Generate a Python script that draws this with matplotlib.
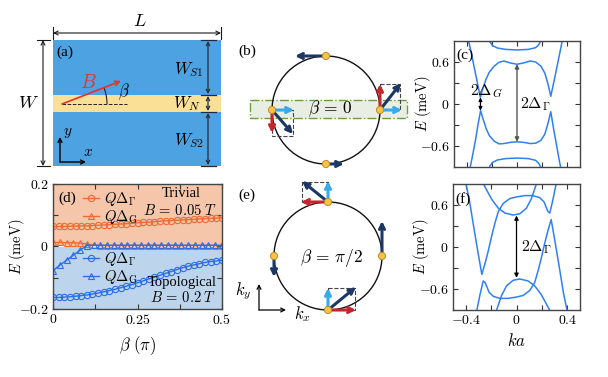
import numpy as np
import matplotlib
matplotlib.use('Agg')
import matplotlib.pyplot as plt
from matplotlib.patches import Rectangle, Circle, Arc

plt.rcParams['mathtext.fontset'] = 'cm'
plt.rcParams['font.family'] = ['Liberation Serif', 'DejaVu Serif']

# ---------------- data: panel (c) bands (k a, E meV) ----------------
c_band1_k = [-0.39, -0.364, -0.338, -0.312, -0.291, -0.273, -0.247, -0.221, -0.182, -0.143, -0.104, -0.052, 0.0,
             0.052, 0.104, 0.148, 0.19, 0.221, 0.247, 0.268, 0.299, 0.325, 0.351, 0.364]
c_band1_E = [0.95, 0.74, 0.51, 0.28, 0.095, 0.21, 0.35, 0.45, 0.54, 0.595, 0.614, 0.586, 0.568,
             0.586, 0.614, 0.60, 0.54, 0.44, 0.28, 0.11, 0.37, 0.60, 0.83, 0.95]
c_band2_k = [-0.377, -0.355, -0.33, -0.31, -0.289, -0.27, -0.245, -0.22, -0.182, -0.143, -0.104, -0.052, 0.0,
             0.052, 0.104, 0.148, 0.19, 0.221, 0.247, 0.268, 0.292, 0.315, 0.338, 0.352]
c_band2_E = [-0.95, -0.76, -0.52, -0.30, -0.095, -0.21, -0.35, -0.45, -0.53, -0.57, -0.565, -0.548, -0.54,
             -0.548, -0.565, -0.56, -0.52, -0.43, -0.27, -0.11, -0.37, -0.60, -0.83, -0.95]
c_cap_up_k = [-0.226, -0.216, -0.195, -0.156, -0.091, 0.0, 0.091, 0.148, 0.174, 0.19, 0.195]
c_cap_up_E = [0.95, 0.89, 0.835, 0.80, 0.78, 0.772, 0.78, 0.805, 0.85, 0.91, 0.95]
c_cap_dn_k = [-0.226, -0.216, -0.195, -0.156, -0.091, 0.0, 0.091, 0.148, 0.174, 0.19, 0.195]
c_cap_dn_E = [-0.95, -0.89, -0.835, -0.80, -0.78, -0.772, -0.78, -0.805, -0.85, -0.91, -0.95]

# ---------------- data: panel (f) bands ----------------
f_band1_k = [-0.403, -0.371, -0.338, -0.304, -0.273, -0.247, -0.221, -0.195, -0.169, -0.143, -0.104, -0.052, 0.0,
             0.065, 0.13, 0.182, 0.216, 0.247, 0.262, 0.286, 0.312, 0.319]
f_band1_E = [0.946, 0.669, 0.30, -0.07, -0.392, -0.23, -0.046, 0.16, 0.346, 0.508, 0.623, 0.692, 0.715,
             0.734, 0.734, 0.706, 0.646, 0.508, 0.485, 0.669, 0.90, 0.946]
f_band2_k = [-0.319, -0.312, -0.286, -0.262, -0.247, -0.216, -0.182, -0.13, -0.065, 0.0, 0.052, 0.104, 0.143,
             0.169, 0.195, 0.221, 0.247, 0.273, 0.304, 0.338, 0.371, 0.403]
f_band2_E = [-0.946, -0.90, -0.669, -0.485, -0.508, -0.646, -0.706, -0.734, -0.734, -0.715, -0.692, -0.623, -0.508,
             -0.346, -0.16, 0.046, 0.23, 0.392, 0.07, -0.30, -0.669, -0.946]
f_par_up_k = [-0.273, -0.234, -0.195, -0.143, -0.091, -0.026, 0.026, 0.078, 0.117, 0.148, 0.164]
f_par_up_E = [0.946, 0.81, 0.68, 0.554, 0.485, 0.457, 0.475, 0.554, 0.69, 0.854, 0.946]
f_par_dn_k = [-0.164, -0.148, -0.117, -0.078, -0.026, 0.026, 0.091, 0.143, 0.195, 0.234, 0.273]
f_par_dn_E = [-0.946, -0.854, -0.69, -0.554, -0.475, -0.457, -0.485, -0.554, -0.68, -0.81, -0.946]

# ---------------- data: panel (d) ----------------
beta_circ = np.linspace(0, 0.5, 31)
triv_gamma = [0.064, 0.064, 0.064, 0.065, 0.065, 0.066, 0.066, 0.067, 0.068, 0.069, 0.070,
              0.071, 0.072, 0.073, 0.074, 0.076, 0.077, 0.078, 0.079, 0.081, 0.082,
              0.083, 0.084, 0.085, 0.086, 0.087, 0.088, 0.089, 0.090, 0.091, 0.092]
topo_gamma = [-0.163, -0.163, -0.162, -0.161, -0.159, -0.157, -0.155, -0.152, -0.149, -0.145, -0.141,
              -0.137, -0.132, -0.127, -0.122, -0.116, -0.110, -0.104, -0.098, -0.092, -0.086,
              -0.080, -0.074, -0.068, -0.063, -0.059, -0.055, -0.051, -0.048, -0.046, -0.044]
beta_tri = np.linspace(0, 0.5, 26)
triv_G = [0.013, 0.013, 0.012, 0.012, 0.011, 0.008, 0.004, 0.003, 0.003, 0.003, 0.003, 0.003, 0.003,
          0.003, 0.003, 0.003, 0.003, 0.003, 0.003, 0.003, 0.003, 0.003, 0.003, 0.003, 0.003, 0.003]
topo_G = [-0.077, -0.060, -0.044, -0.028, -0.012, 0.003, 0.004, 0.004, 0.004, 0.004, 0.004, 0.004, 0.004,
          0.004, 0.004, 0.004, 0.004, 0.004, 0.004, 0.004, 0.004, 0.004, 0.004, 0.004, 0.004, 0.004]

# ---------------- schematic geometry (figure pixels) ----------------
rect_a = (53, 40, 221, 166)
strip_a = (95, 112)
B_vec = ((62, 104), (121, 81))

circ_b = (326, 110, 54)
dots_b = [(326, 56), (326, 164), (272, 110), (380, 110)]
circ_e = (328, 256, 54)
dots_e = [(328, 202), (328, 310), (274, 256), (382, 256)]

W, H = 608, 377
fig = plt.figure(figsize=(6.08, 3.77), dpi=100)

BAND = '#2F80F2'
ORANGE = '#F06A35'
BLUE = '#2A6FE8'
NAVY = '#1D3765'
LBLUE = '#38A9E9'
RED = '#C3262C'
TICKFS = 10
LABFS = 10.5


def px_axes(x0, y0, x1, y1):
    return fig.add_axes([x0 / W, 1 - y1 / H, (x1 - x0) / W, (y1 - y0) / H])


def band_style(ax, xlabels):
    ax.set_xlim(-0.5, 0.5)
    ax.set_ylim(-0.9, 0.9)
    ax.set_xticks([-0.4, 0, 0.4])
    ax.set_xticks([-0.2, 0.2], minor=True)
    ax.set_yticks([-0.6, 0, 0.6])
    ax.set_yticks([-0.3, 0.3], minor=True)
    ax.set_yticklabels([r'$-0.6$', r'$0$', r'$0.6$'], fontsize=TICKFS)
    if xlabels:
        ax.set_xticklabels([r'$-0.4$', r'$0$', r'$0.4$'], fontsize=TICKFS)
        ax.set_xlabel(r'$ka$', fontsize=LABFS + 1.5, labelpad=4)
    else:
        ax.set_xticklabels([])
    ax.tick_params(which='both', direction='in', top=True, right=True, length=3.5, width=0.8,
                   colors='#333333', labelcolor='black', pad=3)
    for s in ax.spines.values():
        s.set_color('#444444')
        s.set_linewidth(1.0)
    ax.set_ylabel(r'$E\ (\mathrm{meV})$', fontsize=LABFS)
    ax.yaxis.set_label_coords(-0.17, 0.5)


# ---------------- panel (c) ----------------
ax_c = px_axes(454, 41, 580, 167)
for kk, ee in [(c_band1_k, c_band1_E), (c_band2_k, c_band2_E), (c_cap_up_k, c_cap_up_E), (c_cap_dn_k, c_cap_dn_E)]:
    ax_c.plot(kk, ee, color=BAND, lw=1.1)
band_style(ax_c, False)
ax_c.annotate('', xy=(-0.29, -0.095), xytext=(-0.29, 0.095),
              arrowprops=dict(arrowstyle='<|-|>', color='black', lw=0.9, mutation_scale=5, shrinkA=0, shrinkB=0))
ax_c.annotate('', xy=(0, -0.54), xytext=(0, 0.57),
              arrowprops=dict(arrowstyle='<|-|>', color='#555555', lw=1.0, mutation_scale=6, shrinkA=0, shrinkB=0))
ax_c.text(-0.24, 0.19, r'$2\Delta_G$', fontsize=11.5, ha='center', va='center')
ax_c.text(0.145, 0.0, r'$2\Delta_\Gamma$', fontsize=11.5, ha='center', va='center')
ax_c.text(0.02, 0.94, '(c)', transform=ax_c.transAxes, fontsize=11, va='top', ha='left')

# ---------------- panel (f) ----------------
ax_f = px_axes(453, 184, 580, 310)
for kk, ee in [(f_band1_k, f_band1_E), (f_band2_k, f_band2_E), (f_par_up_k, f_par_up_E), (f_par_dn_k, f_par_dn_E)]:
    ax_f.plot(kk, ee, color=BAND, lw=1.1)
band_style(ax_f, True)
ax_f.annotate('', xy=(0, -0.44), xytext=(0, 0.45),
              arrowprops=dict(arrowstyle='<|-|>', color='black', lw=0.9, mutation_scale=6, shrinkA=0, shrinkB=0))
ax_f.text(0.155, 0.0, r'$2\Delta_\Gamma$', fontsize=11.5, ha='center', va='center')
ax_f.text(0.02, 0.94, '(f)', transform=ax_f.transAxes, fontsize=11, va='top', ha='left')

# ---------------- panel (d) ----------------
ax_d = px_axes(53, 184, 222, 309)
ax_d.axhspan(0, 0.2, color='#F5C6AA', lw=0, zorder=0)
ax_d.axhspan(-0.2, 0, color='#BDD5EC', lw=0, zorder=0)
mk = dict(mfc='none', ms=4.5, mew=0.8, lw=1.0)
h1, = ax_d.plot(beta_circ, triv_gamma, '-o', color=ORANGE, **mk)
h2, = ax_d.plot(beta_tri, triv_G, '-^', color=ORANGE, **mk)
h3, = ax_d.plot(beta_circ, topo_gamma, '-o', color=BLUE, **mk)
h4, = ax_d.plot(beta_tri, topo_G, '-^', color=BLUE, **mk)
ax_d.set_xlim(0, 0.5)
ax_d.set_ylim(-0.2, 0.2)
ax_d.set_xticks([0, 0.25, 0.5])
ax_d.set_xticks([0.125, 0.375], minor=True)
ax_d.set_xticklabels([r'$0$', r'$0.25$', r'$0.5$'], fontsize=TICKFS)
ax_d.set_yticks([-0.2, 0, 0.2])
ax_d.set_yticks([-0.1, 0.1], minor=True)
ax_d.set_yticklabels([r'$-0.2$', r'$0$', r'$0.2$'], fontsize=TICKFS)
ax_d.tick_params(which='both', direction='in', top=True, right=True, length=3.5, width=0.8,
                 colors='#333333', labelcolor='black', pad=3)
for s in ax_d.spines.values():
    s.set_color('#444444')
    s.set_linewidth(1.0)
ax_d.set_ylabel(r'$E\ (\mathrm{meV})$', fontsize=LABFS)
ax_d.yaxis.set_label_coords(-0.155, 0.5)
ax_d.set_xlabel(r'$\beta\ (\pi)$', fontsize=LABFS + 1.5, labelpad=5)
legkw = dict(frameon=False, fontsize=10.5, handlelength=1.15, handletextpad=0.35, labelspacing=0.0,
             borderpad=0, borderaxespad=0)
leg1 = ax_d.legend([h1, h2], [r'$Q\Delta_\Gamma$', r'$Q\Delta_\mathrm{G}$'], loc='upper left',
                   bbox_to_anchor=(0.175, 0.95), **legkw)
ax_d.add_artist(leg1)
ax_d.legend([h3, h4], [r'$Q\Delta_\Gamma$', r'$Q\Delta_\mathrm{G}$'], loc='upper left',
            bbox_to_anchor=(0.175, 0.475), **legkw)
ax_d.text(0.76, 0.925, 'Trivial', transform=ax_d.transAxes, fontsize=10.5, ha='center', va='center')
ax_d.text(0.75, 0.79, r'$B\,=\,0.05\;T$', transform=ax_d.transAxes, fontsize=10.5, ha='center', va='center')
ax_d.text(0.765, 0.215, 'Topological', transform=ax_d.transAxes, fontsize=10.5, ha='center', va='center')
ax_d.text(0.77, 0.088, r'$B\,=\,0.2\;T$', transform=ax_d.transAxes, fontsize=10.5, ha='center', va='center')
ax_d.text(0.03, 0.94, '(d)', transform=ax_d.transAxes, fontsize=11, va='top', ha='left')

# ---------------- schematics overlay ----------------
ax_s = fig.add_axes([0, 0, 1, 1])
ax_s.set_xlim(0, W)
ax_s.set_ylim(H, 0)
ax_s.axis('off')
ax_s.patch.set_alpha(0)


def arrow(p0, p1, color, lw=2.2, ms=9, style='->', z=5):
    ax_s.annotate('', xy=p1, xytext=p0, zorder=z,
                  arrowprops=dict(arrowstyle=style, color=color, lw=lw, mutation_scale=ms,
                                  shrinkA=0, shrinkB=0))


# panel (a)
x0, y0, x1, y1 = rect_a
ax_s.add_patch(Rectangle((x0, y0), x1 - x0, y1 - y0, fc='#4DA3E2', ec='none', zorder=1))
ax_s.add_patch(Rectangle((x0, strip_a[0]), x1 - x0, strip_a[1] - strip_a[0], fc='#FADF96', ec='none', zorder=2))
dim = '#1a1a1a'
arrow((x0, 33), (x1, 33), dim, lw=0.8, ms=7, style='<->')
ax_s.plot([x0, x0], [27, 39], color=dim, lw=0.8)
ax_s.plot([x1, x1], [27, 39], color=dim, lw=0.8)
ax_s.text(140, 22, r'$L$', fontsize=13, ha='center', va='center')
arrow((43, y0), (43, y1), dim, lw=0.8, ms=7, style='<->')
ax_s.plot([37, 50], [y0, y0], color=dim, lw=0.8)
ax_s.plot([37, 50], [y1, y1], color=dim, lw=0.8)
ax_s.text(28, 103, r'$W$', fontsize=13, ha='center', va='center')
for ya, yb in [(y0, strip_a[0]), (strip_a[0], strip_a[1]), (strip_a[1], y1)]:
    arrow((208, ya + 1), (208, yb - 1), '#1F2A3C', lw=0.9, ms=6, style='<->', z=4)
for yy in [y0, strip_a[0], strip_a[1], y1]:
    ax_s.plot([201, 216], [yy, yy], color='#1F2A3C', lw=0.9, zorder=4)
ax_s.text(189, 70, r'$W_{S1}$', fontsize=12, ha='center', va='center', zorder=6)
ax_s.text(187, 104, r'$W_N$', fontsize=12, ha='center', va='center', zorder=6)
ax_s.text(189, 141, r'$W_{S2}$', fontsize=12, ha='center', va='center', zorder=6)
ax_s.text(56, 52, '(a)', fontsize=11, ha='left', va='center', zorder=6)
ax_s.plot([B_vec[0][0], 127], [B_vec[0][1], B_vec[0][1]], ls='--', color='#222222', lw=0.7, zorder=4)
arrow(B_vec[0], B_vec[1], '#E5332A', lw=1.2, ms=8, style='->')
ax_s.add_patch(Arc(B_vec[0], 90, 90, angle=0, theta1=-21, theta2=0, color='#222222', lw=0.8, zorder=4))
ax_s.text(88, 83, r'$B$', fontsize=14, color='#E5332A', ha='center', va='center', zorder=6)
ax_s.text(124, 92, r'$\beta$', fontsize=12, ha='center', va='center', zorder=6)
arrow((60, 162), (60, 137), 'black', lw=1.0, ms=7, style='->')
arrow((60, 162), (86, 162), 'black', lw=1.0, ms=7, style='->')
ax_s.text(68, 133, r'$y$', fontsize=11, ha='center', va='center', zorder=6)
ax_s.text(88, 152, r'$x$', fontsize=11, ha='center', va='center', zorder=6)

# panel (b)
ax_s.add_patch(Rectangle((250, 100), 157, 18, fc='#E8EFE2', ec='#6E9A45', lw=1.0, ls='-.', zorder=1))
ax_s.add_patch(Circle(circ_b[:2], circ_b[2], fill=False, ec='#111111', lw=1.0, zorder=2))
ax_s.text(330, 109, r'$\beta\,=\,0$', fontsize=12.5, ha='center', va='center', zorder=3)
ax_s.text(247, 51, '(b)', fontsize=11, ha='center', va='center')
ax_s.add_patch(Rectangle((272, 110), 21, 26, fill=False, ec='#444444', lw=0.8, ls='--', zorder=3))
ax_s.add_patch(Rectangle((380, 84), 20, 26, fill=False, ec='#444444', lw=0.8, ls='--', zorder=3))
arrow((326, 56), (295, 56), NAVY)
arrow((326, 164), (344, 164), NAVY)
arrow((272, 110), (294, 110), LBLUE)
arrow((272, 110), (272, 133), RED)
arrow((272, 110), (293, 134), NAVY)
arrow((380, 110), (402, 110), LBLUE)
arrow((380, 110), (380, 84), RED)
arrow((380, 110), (401, 83), NAVY)
for d in dots_b:
    ax_s.add_patch(Circle(d, 3.6, fc='#F6C445', ec='#C08A2A', lw=0.7, zorder=8))

# panel (e)
ax_s.add_patch(Circle(circ_e[:2], circ_e[2], fill=False, ec='#111111', lw=1.0, zorder=2))
ax_s.text(331, 258, r'$\beta\,=\,\pi/2$', fontsize=12.5, ha='center', va='center', zorder=3)
ax_s.text(247, 195, '(e)', fontsize=11, ha='center', va='center')
ax_s.add_patch(Rectangle((302, 182), 26, 20, fill=False, ec='#444444', lw=0.8, ls='--', zorder=3))
ax_s.add_patch(Rectangle((328, 288), 27, 22, fill=False, ec='#444444', lw=0.8, ls='--', zorder=3))
arrow((328, 202), (328, 181), LBLUE)
arrow((328, 202), (301, 202), RED)
arrow((328, 202), (302, 181), NAVY)
arrow((382, 256), (382, 221), NAVY)
arrow((274, 256), (274, 277), NAVY)
arrow((328, 310), (328, 288), LBLUE)
arrow((328, 310), (356, 310), RED)
arrow((328, 310), (356, 287), NAVY)
for d in dots_e:
    ax_s.add_patch(Circle(d, 3.6, fc='#F6C445', ec='#C08A2A', lw=0.7, zorder=8))
arrow((259, 310), (259, 284), 'black', lw=0.9, ms=7, style='->')
arrow((259, 310), (286, 310), 'black', lw=0.9, ms=7, style='->')
ax_s.text(243, 291, r'$k_y$', fontsize=12, ha='center', va='center')
ax_s.text(302, 314, r'$k_x$', fontsize=12, ha='center', va='center')

fig.savefig('out.png', dpi=100)
